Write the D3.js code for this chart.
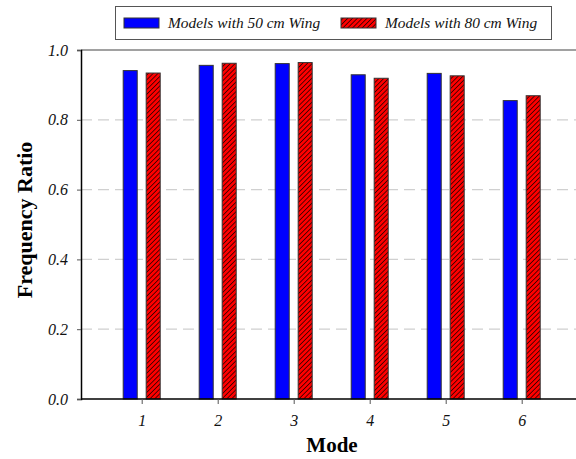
<!DOCTYPE html>
<html>
<head>
<meta charset="utf-8">
<script src="https://cdn.jsdelivr.net/npm/d3@7"></script>
<style>
  html, body { margin: 0; padding: 0; background: #fff; }
  svg { display: block; }
  text { font-family: "Liberation Serif", "Times New Roman", serif; }
</style>
</head>
<body>
<svg id="chart" width="576" height="459"></svg>
<script>
// Mode numbers along the x axis
const modes = [1, 2, 3, 4, 5, 6];
// Frequency ratio per mode for each wing size
const wing50 = [0.941, 0.956, 0.961, 0.929, 0.933, 0.855];
const wing80 = [0.934, 0.962, 0.964, 0.919, 0.926, 0.869];
const seriesNames = ["Models with 50 cm Wing", "Models with 80 cm Wing"];
const yTicks = [0.0, 0.2, 0.4, 0.6, 0.8, 1.0];

const svg = d3.select("#chart");
const plot = { left: 81, right: 580, top: 50, bottom: 399 };

const x = d3.scaleLinear().domain([1, 6]).range([141.7, 521.7]);
const y = d3.scaleLinear().domain([0, 1]).range([plot.bottom, plot.top]);
const inner = d3.scaleBand().domain([0, 1]).range([-18.5, 18.5]).paddingInner(0.39);

// hatch for the 80 cm series
const defs = svg.append("defs");
const pat = defs.append("pattern")
  .attr("id", "hatch")
  .attr("patternUnits", "userSpaceOnUse")
  .attr("width", 3.4).attr("height", 3.4)
  .attr("patternTransform", "rotate(45)");
pat.append("rect").attr("width", 3.4).attr("height", 3.4).attr("fill", "#ff0000");
pat.append("line").attr("x1", 0).attr("y1", 0).attr("x2", 0).attr("y2", 3.4)
  .attr("stroke", "#000").attr("stroke-width", 1.3);

const fills = ["#0000ff", "url(#hatch)"];

// dashed grid lines
svg.append("g").selectAll("line")
  .data(yTicks.filter(t => t > 0 && t < 1))
  .join("line")
  .attr("x1", plot.left).attr("x2", plot.right)
  .attr("y1", d => y(d)).attr("y2", d => y(d))
  .attr("stroke", "#d0d0d0").attr("stroke-width", 1.3)
  .attr("stroke-dasharray", "11,6");

// bars
const data = modes.flatMap((m, i) => [
  { mode: m, s: 0, v: wing50[i] },
  { mode: m, s: 1, v: wing80[i] }
]);
svg.append("g").selectAll("rect")
  .data(data)
  .join("rect")
  .attr("x", d => x(d.mode) + inner(d.s))
  .attr("width", inner.bandwidth())
  .attr("y", d => y(d.v))
  .attr("height", d => y(0) - y(d.v))
  .attr("fill", d => fills[d.s])
  .attr("stroke", "#333")
  .attr("stroke-width", 1);

// top frame line
svg.append("line")
  .attr("x1", plot.left).attr("x2", plot.right)
  .attr("y1", plot.top).attr("y2", plot.top)
  .attr("stroke", "#444").attr("stroke-width", 1.2);

// y axis
const yAxis = d3.axisLeft(y).tickValues(yTicks).tickFormat(d3.format(".1f")).tickSize(4).tickPadding(9);
const gy = svg.append("g").attr("transform", `translate(${plot.left},0)`).call(yAxis);
gy.select(".domain").attr("stroke", "#000").attr("stroke-width", 1.5);
gy.selectAll(".tick line").attr("stroke", "#555");
gy.selectAll(".tick text").attr("font-size", 16).attr("font-style", "italic")
  .attr("fill", "#111").style("font-family", "Liberation Serif");

// x axis
const xAxis = d3.axisBottom(x).tickValues(modes).tickFormat(d3.format("d")).tickSizeInner(5).tickSizeOuter(0).tickPadding(11);
const gx = svg.append("g").attr("transform", `translate(0,${plot.bottom})`).call(xAxis);
gx.select(".domain").attr("d", `M${plot.left},0H${plot.right}`).attr("stroke", "#000").attr("stroke-width", 1.5);
gx.selectAll(".tick line").attr("stroke", "#555");
gx.selectAll(".tick text").attr("font-size", 16).attr("font-style", "italic")
  .attr("fill", "#111").style("font-family", "Liberation Serif");

// axis titles
svg.append("text")
  .attr("x", 332).attr("y", 452)
  .attr("text-anchor", "middle")
  .attr("font-size", 21).attr("font-weight", "bold")
  .text("Mode");
svg.append("text")
  .attr("transform", "translate(32,220) rotate(-90)")
  .attr("text-anchor", "middle")
  .attr("font-size", 22).attr("font-weight", "bold")
  .text("Frequency Ratio");

// legend
const lg = svg.append("g");
lg.append("rect")
  .attr("x", 115.5).attr("y", 6.5).attr("width", 436).attr("height", 33)
  .attr("fill", "#fff").attr("stroke", "#555").attr("stroke-width", 1);
const legendX = [124, 341];
seriesNames.forEach((name, i) => {
  lg.append("rect")
    .attr("x", legendX[i]).attr("y", 18).attr("width", 35).attr("height", 10)
    .attr("fill", fills[i]).attr("stroke", "#333").attr("stroke-width", 1);
  lg.append("text")
    .attr("x", legendX[i] + 44).attr("y", 28)
    .attr("font-size", 15.4).attr("font-style", "italic")
    .attr("fill", "#111")
    .text(name);
});
</script>
</body>
</html>
